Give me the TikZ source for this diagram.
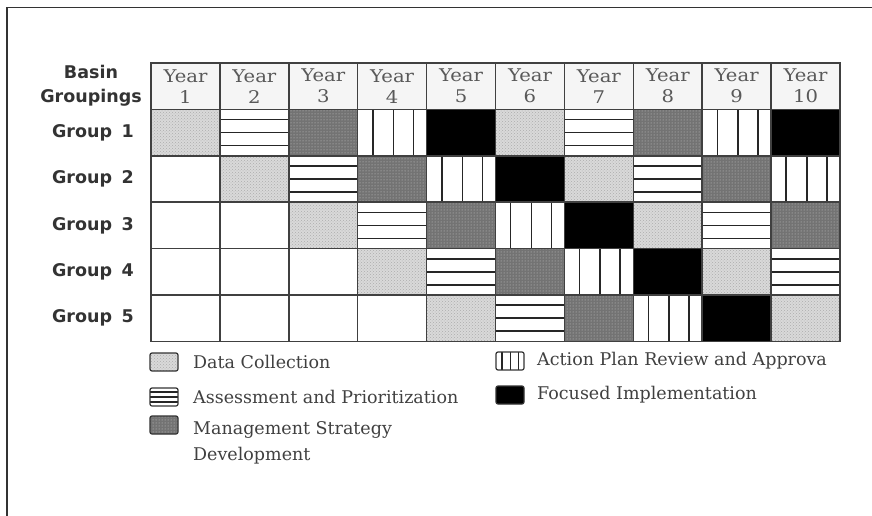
\documentclass[tikz,border=0pt]{standalone}
\usepackage{fontspec}
\setmainfont{DejaVu Serif}
\newfontfamily\yearfont{DejaVu Serif}[FakeStretch=1.12]
\newfontfamily\groupfont{DejaVu Sans}
\usetikzlibrary{patterns,calc}

\begin{document}
\begin{tikzpicture}[x=1pt,y=-1pt,inner sep=0pt,
	cell/.style={draw=black!75,line width=1.5pt,minimum width=68.9pt,minimum height=46.4pt},
	header/.style={fill=black!4,text=black!65,align=center,font=\yearfont\fontsize{17.5}{21}\selectfont},
	group/.style={text=black!80,font=\groupfont\bfseries\fontsize{17.5}{24}\selectfont},
	legend/.style={anchor=west,text=black!75,align=left,font=\fontsize{17.5}{26}\selectfont},
	key/.style={draw=black!80,line width=1.2pt,rounded corners=2pt,minimum width=28pt,minimum height=18pt},
	hlines/.style={path picture={
		\foreach \f in {0.22,0.5,0.78}
			\draw[line width=1.6pt,black!85]
				($(path picture bounding box.north west)!\f!(path picture bounding box.south west)$) --
				($(path picture bounding box.north east)!\f!(path picture bounding box.south east)$);
	}},
	vlines/.style={path picture={
		\foreach \f in {0.22,0.52,0.81}
			\draw[line width=1.6pt,black!85]
				($(path picture bounding box.north west)!\f!(path picture bounding box.north east)$) --
				($(path picture bounding box.south west)!\f!(path picture bounding box.south east)$);
	}},
	kind0/.style={preaction={fill=black!15},pattern=crosshatch dots,pattern color=black!32},
	kind1/.style={fill=white,hlines},
	kind2/.style={preaction={fill=black!55},pattern=dots,pattern color=white!80!black},
	kind3/.style={fill=white,vlines},
	kind4/.style={fill=black},
	kind5/.style={fill=white}]

	\useasboundingbox (0,0) rectangle (872,516);
	\draw [line width=1.6pt,black!80] (7,516) -- (7,7.5) -- (872,7.5);

	\foreach \c in {1,...,10}{
		\node [cell,header] (year \c) at ({151+(\c-0.5)*68.9},86.2) {Year\\\c};
		\foreach \r in {1,...,5}{
			\pgfmathtruncatemacro\k{\c<\r ? 5 : mod(\c-\r,5)}
			\node [cell,kind\k] (cell \r-\c) at ({151+(\c-0.5)*68.9},{63+(\r+0.5)*46.4}) {};
		}
	}

	\node [group,align=center] (basin) at (91,86) {Basin\\Groupings};
	\foreach \r in {1,...,5}
		\node [group] (group \r) at (93,{63+(\r+0.5)*46.4}) {Group\hspace{0.55em}\r};

	\node [key,kind0] (key 1) at (164,362) {};
	\node [key,kind1] (key 2) at (164,397) {};
	\node [key,kind2] (key 3) at (164,425) {};
	\node [key,kind3] (key 4) at (510,361) {};
	\node [key,kind4] (key 5) at (510,395) {};

	\node [legend] (text 1) at (193,362) {Data Collection};
	\node [legend] (text 2) at (193,397) {Assessment and Prioritization};
	\node [legend] (text 3) at (193,443) {Management Strategy\\Development};
	\node [legend] (text 4) at (537,361) {Action Plan Review and Approva};
	\node [legend] (text 5) at (537,395) {Focused Implementation};

\end{tikzpicture}
\end{document}
